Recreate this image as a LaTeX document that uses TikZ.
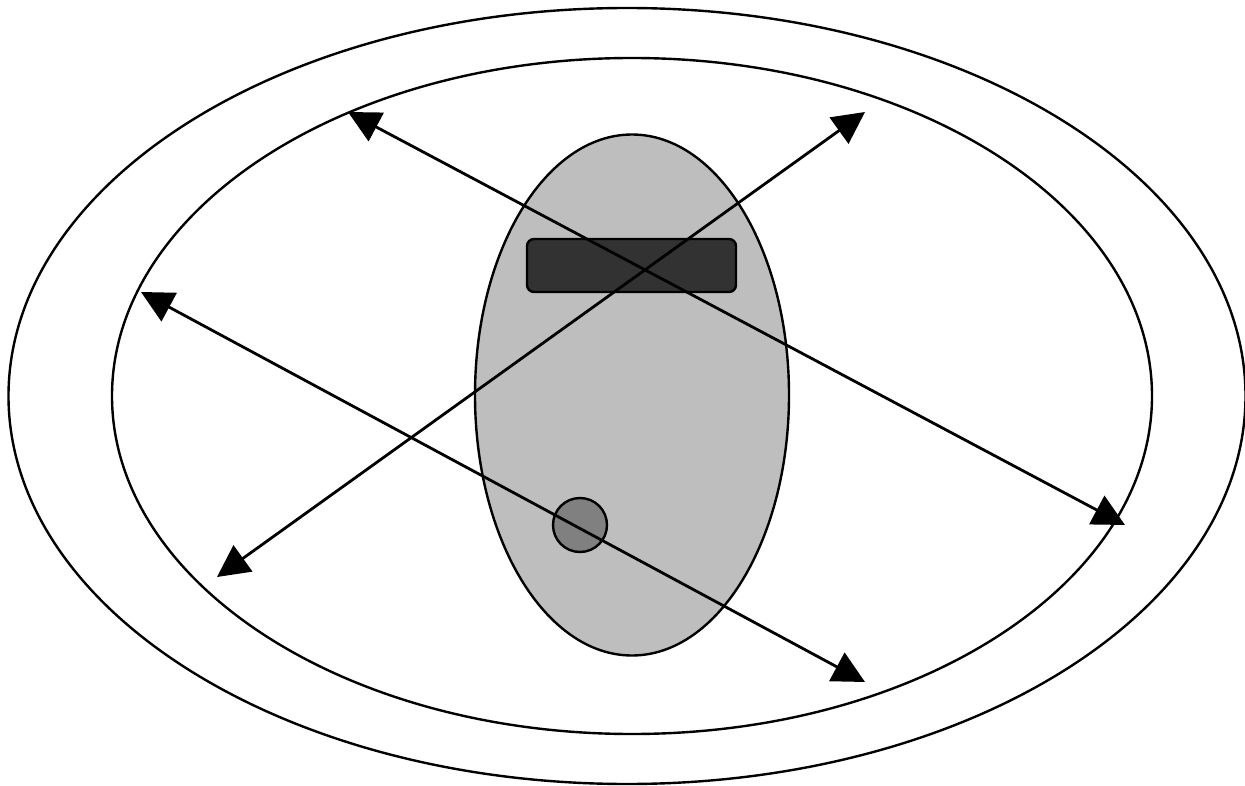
\documentclass[tikz,border=0pt]{standalone}
\usetikzlibrary{shapes.geometric,arrows.meta}
\begin{document}
\begin{tikzpicture}[x=1pt,y=-1pt,
  outline/.style={draw=black,line width=2.4pt,inner sep=0pt},
  dblarrow/.style={line width=2.8pt,{Triangle[length=32pt,width=32pt]}-{Triangle[length=32pt,width=32pt]}}]
\useasboundingbox (0,0) rectangle (1245,786);
\node[ellipse,outline,minimum width=1237pt,minimum height=776pt] (outer) at (627,396) {};
\node[ellipse,outline,minimum width=1040pt,minimum height=676pt] (inner) at (632,396) {};
\node[ellipse,outline,fill={rgb,255:red,190;green,190;blue,190},minimum width=314pt,minimum height=521pt] (body) at (632,395) {};
\node[outline,fill={rgb,255:red,50;green,50;blue,50},rounded corners=7pt,minimum width=209pt,minimum height=53pt] (bar) at (631.5,265.5) {};
\node[circle,outline,fill={rgb,255:red,128;green,128;blue,128},minimum size=54pt] (dot) at (580,525) {};
\coordinate (a1) at (348,112);
\coordinate (a2) at (1125,525);
\coordinate (b1) at (865,112);
\coordinate (b2) at (217,577);
\coordinate (c1) at (141,292);
\coordinate (c2) at (865,682);
\draw[dblarrow] (a1) -- (a2);
\draw[dblarrow] (b1) -- (b2);
\draw[dblarrow] (c1) -- (c2);
\end{tikzpicture}
\end{document}
